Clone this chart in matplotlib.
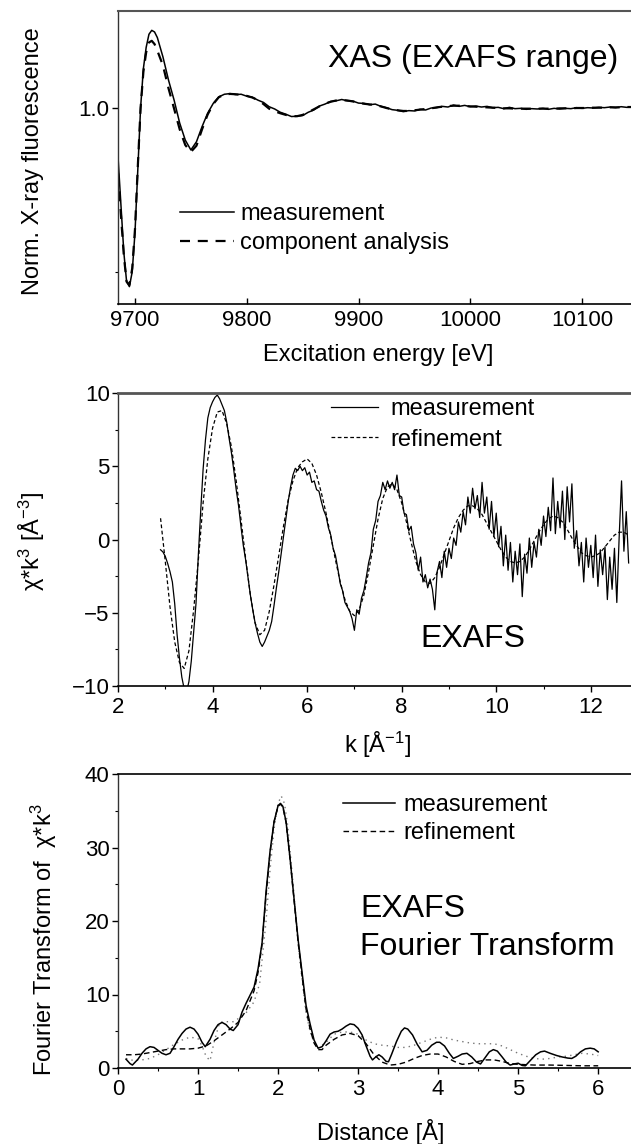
import numpy as np
import matplotlib
matplotlib.use("Agg")
import matplotlib.pyplot as plt
from matplotlib.ticker import FixedLocator, MultipleLocator

plt.rcParams['font.family'] = ['Liberation Sans', 'DejaVu Sans']
plt.rcParams['mathtext.fontset'] = 'custom'
plt.rcParams['mathtext.rm'] = 'Liberation Sans'
plt.rcParams['mathtext.it'] = 'Liberation Sans:italic'

# ---------------- Panel 1: XAS (EXAFS range) ----------------
energy_fine = [9685, 9687.5, 9690, 9692.5, 9695, 9697.5, 9700, 9702.5, 9705,
               9707.5, 9710, 9712.5, 9715, 9717.5, 9720]
energy_coarse = list(range(9725, 10146, 5))
energy = energy_fine + energy_coarse

xas_meas = [0.84, 0.70, 0.56, 0.47, 0.455, 0.50, 0.62, 0.81, 1.00, 1.12, 1.185, 1.225, 1.237, 1.232, 1.215,
            1.156, 1.085, 1.024, 0.954, 0.902, 0.872, 0.897, 0.943, 0.984, 1.014,
            1.034, 1.042, 1.044, 1.041, 1.042, 1.036, 1.033, 1.024, 1.017, 1.004,
            0.997, 0.987, 0.981, 0.974, 0.975, 0.977, 0.987, 0.994, 1.006, 1.012,
            1.020, 1.022, 1.026, 1.022, 1.021, 1.015, 1.014, 1.010, 1.012, 1.005,
            1.001, 0.995, 0.993, 0.989, 0.992, 0.991, 0.996, 0.994, 1.000, 1.001,
            1.005, 1.003, 1.009, 1.005, 1.008, 1.004, 1.006, 1.003, 1.005, 1.001,
            1.002, 0.998, 1.002, 0.998, 0.999, 0.996, 0.998, 0.997, 0.999, 0.996,
            0.999, 0.997, 0.999, 0.998, 1.001, 0.999, 1.001, 1.000, 1.002, 1.001,
            1.003, 1.001, 1.004, 1.002, 1.004]

xas_comp = [0.80, 0.67, 0.55, 0.47, 0.46, 0.51, 0.63, 0.82, 1.00, 1.11, 1.17, 1.20, 1.205, 1.195, 1.175,
            1.130, 1.060, 0.998, 0.935, 0.887, 0.866, 0.885, 0.935, 0.980, 1.012,
            1.033, 1.041, 1.043, 1.042, 1.040, 1.037, 1.032, 1.024, 1.012, 0.998,
            0.990, 0.984, 0.979, 0.975, 0.975, 0.979, 0.987, 0.996, 1.005, 1.013,
            1.019, 1.023, 1.024, 1.023, 1.020, 1.016, 1.013, 1.011, 1.009, 1.005,
            1.000, 0.996, 0.993, 0.991, 0.991, 0.993, 0.995, 0.997, 0.999, 1.002,
            1.004, 1.006, 1.007, 1.007, 1.006, 1.005, 1.004, 1.003, 1.002, 1.001,
            1.000, 0.999, 0.999, 0.998, 0.998, 0.998, 0.998, 0.998, 0.998, 0.998,
            0.998, 0.999, 0.999, 0.999, 1.000, 1.000, 1.000, 1.001, 1.001, 1.001,
            1.002, 1.002, 1.002, 1.003, 1.003]

# ---------------- Panel 2: EXAFS chi*k^3 ----------------
k_start, k_step = 2.90, 0.05
chi_meas = [-0.70, -0.85, -1.15, -1.63, -2.2, -2.9, -4.4, -6.5, -8.1, -9.4,
            -10.2, -10.4, -9.7, -8.3, -6.3, -4.36, -1.0, 2.0, 4.8, 6.8,
            8.3, 9.0, 9.4, 9.7, 9.86, 9.6, 9.2, 8.8, 8.0, 6.9,
            5.9, 4.7, 3.4, 2.3, 0.9, -0.4, -1.4, -2.6, -3.8, -4.8,
            -5.7, -6.4, -7.0, -7.3, -7.0, -6.6, -6.2, -5.6, -4.5, -3.3,
            -2.2, -1.0, 0.2, 1.4, 2.6, 3.6, 4.4, 4.86, 4.7, 5.0,
            4.7, 4.9, 4.4, 4.6, 3.9, 4.0, 3.4, 3.3, 2.6, 2.0,
            1.6, 0.8, 0.3, -0.6, -1.1, -2.0, -3.0, -3.5, -4.3, -4.6,
            -4.9, -5.4, -6.2, -4.8, -5.1, -4.0, -3.5, -2.6, -1.6, -0.9,
            0.7, 1.3, 2.6, 3.0, 3.9, 3.4, 4.0, 3.5, 3.9, 3.4,
            4.4, 3.0, 2.9, 1.8, 1.7, 0.6, 0.9, -0.3, -0.9, -2.1,
            -1.2, -2.9, -2.4, -3.3, -2.7, -3.4, -4.8, -2.2, -1.5, -2.6,
            -0.8, -1.9, -0.6, -1.3, 0.1, -0.4, 1.2, 0.5, 1.9, 1.0,
            2.9, 1.8, 3.5, 2.1, 3.0, 1.5, 3.9, 1.8, 2.9, 0.7,
            2.6, 0.2, 1.8, -0.5, 0.9, -1.8, 0.3, -2.1, -0.2, -2.9,
            -0.8, -2.4, -0.3, -3.9, -1.0, -2.3, 0.1, -1.9, -0.2, -1.2,
            0.7, -0.4, 1.6, 0.2, 2.2, 0.6, 4.2, 0.4, 2.6, 0.8,
            3.3, 0.0, 3.6, 1.2, 3.8, -0.6, 0.6, -1.8, -0.2, -2.9,
            0.1, -1.9, -0.4, -2.6, 0.3, -3.2, -0.7, -2.4, -0.5, -4.1,
            -1.2, -3.4, -0.6, -4.3, 0.2, 4.0, -0.8, 1.9, -1.6]

kr_start, kr_step = 2.90, 0.10
chi_refi = [1.45, -1.5, -4.6, -7.0, -8.4, -8.8, -7.6, -4.8, -1.4, 2.5,
            5.5, 7.6, 8.7, 8.8, 7.9, 6.3, 4.0, 1.4, -1.3, -3.8,
            -5.7, -6.5, -6.2, -4.9, -3.1, -1.1, 0.9, 2.7, 4.0, 4.9,
            5.3, 5.5, 5.2, 4.4, 3.2, 1.8, 0.2, -1.4, -2.9, -4.1,
            -4.9, -5.2, -4.8, -3.8, -2.2, -0.4, 1.4, 2.8, 3.6, 3.8,
            3.4, 2.5, 1.2, -0.2, -1.5, -2.4, -2.9, -3.0, -2.6, -1.9,
            -1.0, -0.1, 0.8, 1.5, 2.0, 2.3, 2.3, 2.1, 1.7, 1.1,
            0.5, -0.1, -0.7, -1.2, -1.5, -1.6, -1.5, -1.2, -0.7, -0.1,
            0.5, 1.0, 1.4, 1.6, 1.5, 1.2, 0.7, 0.1, -0.4, -0.9,
            -1.1, -1.2, -1.1, -0.9, -0.5, -0.1, 0.3, 0.5, 0.5, 0.3]

# ---------------- Panel 3: Fourier transform ----------------
r_meas = [0.10, 0.15, 0.18, 0.25, 0.30, 0.35, 0.40, 0.45, 0.50, 0.55, 0.60, 0.65, 0.70, 0.75,
          0.80, 0.85, 0.90, 0.95, 1.00, 1.05, 1.09, 1.15, 1.20, 1.25, 1.30, 1.35, 1.40, 1.44,
          1.50, 1.55, 1.60, 1.65, 1.70, 1.75, 1.80, 1.85, 1.90, 1.95, 2.00, 2.03, 2.06, 2.10,
          2.15, 2.20, 2.25, 2.30, 2.35, 2.40, 2.45, 2.50, 2.55, 2.60, 2.65, 2.70, 2.75, 2.80,
          2.85, 2.90, 2.95, 3.00, 3.05, 3.10, 3.15, 3.18, 3.22, 3.26, 3.30, 3.35, 3.38, 3.42,
          3.48, 3.54, 3.58, 3.62, 3.68, 3.74, 3.80, 3.86, 3.92, 3.98, 4.02, 4.08, 4.14, 4.19,
          4.25, 4.30, 4.36, 4.42, 4.48, 4.53, 4.58, 4.64, 4.69, 4.74, 4.80, 4.85, 4.90, 4.95,
          5.00, 5.05, 5.09, 5.15, 5.22, 5.28, 5.33, 5.40, 5.48, 5.55, 5.62, 5.67, 5.72, 5.78,
          5.84, 5.90, 5.95, 6.00]
ft_meas = [1.2, 0.6, 0.4, 1.2, 2.0, 2.6, 2.9, 2.8, 2.4, 2.0, 1.8, 2.0, 2.9, 3.9,
           4.7, 5.3, 5.55, 5.3, 4.6, 3.5, 2.9, 3.9, 5.1, 5.9, 6.2, 5.9, 5.3, 5.1,
           5.9, 7.6, 8.8, 9.9, 11.0, 13.5, 17.0, 24.0, 29.5, 33.5, 35.7, 36.0, 35.6, 33.5,
           28.5, 23.0, 17.5, 13.0, 8.5, 6.0, 3.8, 2.7, 2.9, 3.7, 4.6, 4.9, 5.0, 5.3,
           5.7, 6.0, 5.9, 5.4, 4.5, 3.0, 1.6, 1.1, 1.5, 1.8, 1.5, 0.9, 0.85, 1.9,
           3.6, 5.0, 5.45, 5.3, 4.5, 3.2, 2.2, 2.4, 3.1, 3.5, 3.5, 3.0, 2.0, 1.3,
           1.6, 1.9, 2.0, 1.5, 0.8, 0.55, 1.3, 2.2, 2.5, 2.3, 1.5, 0.8, 0.4, 0.55,
           0.65, 0.35, 0.3, 1.0, 1.8, 2.2, 2.3, 2.0, 1.7, 1.5, 1.35, 1.3, 1.6, 2.2,
           2.6, 2.7, 2.6, 2.2]

r_refi = [0.10, 0.20, 0.30, 0.40, 0.50, 0.60, 0.70, 0.80, 0.90, 1.00, 1.10, 1.20, 1.30, 1.40,
          1.50, 1.60, 1.70, 1.75, 1.80, 1.85, 1.90, 1.95, 2.00, 2.03, 2.06, 2.10, 2.15, 2.20,
          2.25, 2.30, 2.35, 2.40, 2.45, 2.50, 2.55, 2.60, 2.70, 2.80, 2.90, 3.00, 3.10, 3.20,
          3.30, 3.40, 3.50, 3.60, 3.70, 3.80, 3.90, 4.00, 4.10, 4.20, 4.30, 4.40, 4.50, 4.60,
          4.70, 4.80, 4.90, 5.00, 5.20, 5.40, 5.60, 5.80, 6.00]
ft_refi = [1.8, 1.8, 1.9, 2.1, 2.3, 2.5, 2.6, 2.6, 2.6, 2.7, 3.0, 3.7, 4.5, 5.3,
           6.2, 7.8, 10.5, 13.0, 16.8, 23.5, 29.3, 33.5, 35.6, 35.9, 35.5, 33.4, 28.4, 22.8,
           17.2, 12.5, 8.0, 5.3, 3.4, 2.5, 2.5, 3.1, 3.9, 4.5, 4.7, 4.4, 3.3, 1.8,
           0.8, 0.4, 0.5, 0.8, 1.3, 1.7, 1.9, 1.9, 1.5, 0.9, 0.5, 0.6, 0.9, 1.1,
           1.1, 0.9, 0.6, 0.5, 0.4, 0.4, 0.35, 0.3, 0.3]

r_dot = [0.10, 0.20, 0.30, 0.40, 0.50, 0.60, 0.70, 0.80, 0.90, 1.00, 1.05, 1.10, 1.15, 1.20,
         1.27, 1.35, 1.44, 1.50, 1.60, 1.70, 1.77, 1.85, 1.90, 1.95, 2.00, 2.04, 2.08, 2.12,
         2.18, 2.25, 2.30, 2.35, 2.40, 2.45, 2.50, 2.60, 2.70, 2.80, 2.90, 3.00, 3.10, 3.20,
         3.30, 3.40, 3.50, 3.60, 3.70, 3.80, 3.90, 4.00, 4.10, 4.20, 4.30, 4.40, 4.50, 4.60,
         4.70, 4.80, 4.90, 5.00, 5.10, 5.20, 5.30, 5.40, 5.50, 5.60, 5.70, 5.80, 5.90, 6.00]
ft_dot = [1.3, 1.0, 1.1, 1.3, 1.8, 2.5, 3.2, 3.8, 4.2, 4.0, 3.0, 1.6, 1.0, 3.5,
          6.2, 6.3, 6.3, 6.7, 7.5, 9.0, 11.5, 20.0, 27.0, 32.5, 36.0, 37.0, 36.0, 33.0,
          26.0, 17.0, 12.0, 7.5, 5.0, 3.4, 2.7, 3.5, 4.6, 4.9, 4.9, 4.6, 3.8, 3.3,
          3.1, 3.0, 2.8, 2.8, 3.1, 3.5, 3.9, 4.2, 4.1, 3.8, 3.6, 3.4, 3.3, 3.3,
          3.3, 3.0, 2.5, 2.0, 1.6, 1.3, 1.2, 1.3, 1.5, 1.6, 1.8, 2.0, 1.9, 1.7]

W, H = 631, 1144
fig = plt.figure(figsize=(W / 100, H / 100), dpi=100)


def px_axes(left, top, right, bottom):
    return fig.add_axes([left / W, 1 - bottom / H, (right - left) / W, (bottom - top) / H])


def style(ax, top_color, top_lw, xdir):
    ax.spines['right'].set_visible(False)
    ax.spines['top'].set_color(top_color)
    ax.spines['top'].set_linewidth(top_lw)
    ax.spines['left'].set_color('#333333')
    ax.spines['left'].set_linewidth(1.0)
    ax.spines['bottom'].set_color('black')
    ax.spines['bottom'].set_linewidth(1.2)
    ax.tick_params(axis='y', which='major', direction='out', length=4, width=1, labelsize=16, pad=2)
    ax.tick_params(axis='y', which='minor', direction='out', length=2, width=0.8)
    ax.tick_params(axis='x', which='major', direction=xdir, length=4, width=1, labelsize=16, pad=4)
    ax.tick_params(axis='x', which='minor', direction=xdir, length=2.5, width=0.8)
    ax.tick_params(top=False, right=False, which='both')


FS_LAB = 17
FS_BIG = 23

# ---- Panel 1
ax1 = px_axes(118, 11, 631, 304)
ax1.plot(energy, xas_meas, color='black', lw=1.1, label='measurement')
ax1.plot(energy, xas_comp, color='black', lw=1.6, linestyle=(0, (4.5, 3.5)), label='component analysis')
ax1.set_xlim(9684.8, 10143.8)
ax1.set_ylim(0.402, 1.296)
ax1.yaxis.set_major_locator(FixedLocator([1.0]))
ax1.yaxis.set_minor_locator(FixedLocator([0.5]))
ax1.set_yticklabels(['1.0'])
ax1.xaxis.set_major_locator(MultipleLocator(100))
style(ax1, '#555555', 1.5, 'in')
ax1.legend(loc='upper left', bbox_to_anchor=((180 - 118) / 513, (304 - 203) / 293), frameon=False,
           fontsize=FS_LAB, handlelength=2.3, handletextpad=0.25, labelspacing=0.3,
           borderpad=0, borderaxespad=0)
fig.text(328 / W, 1 - 67 / H, 'XAS (EXAFS range)', fontsize=FS_BIG, ha='left', va='baseline')
fig.text(33 / W, 1 - 161 / H, 'Norm. X-ray fluorescence', fontsize=FS_LAB, rotation=90,
         ha='center', va='center')
fig.text(378 / W, 1 - 355 / H, 'Excitation energy [eV]', fontsize=FS_LAB, ha='center', va='center')

# ---- Panel 2
ax2 = px_axes(118, 393, 631, 686)
k_meas = np.round(k_start + k_step * np.arange(len(chi_meas)), 3)
k_refi = np.round(kr_start + kr_step * np.arange(len(chi_refi)), 3)
ax2.plot(k_meas, chi_meas, color='black', lw=0.9, label='measurement')
ax2.plot(k_refi, chi_refi, color='black', lw=0.9, linestyle=(0, (3, 2)), label='refinement')
ax2.set_xlim(2, 12.85)
ax2.set_ylim(-10, 10)
ax2.xaxis.set_major_locator(MultipleLocator(2))
ax2.xaxis.set_minor_locator(MultipleLocator(1))
ax2.yaxis.set_major_locator(MultipleLocator(5))
ax2.yaxis.set_minor_locator(MultipleLocator(2.5))
style(ax2, '#555555', 2.0, 'out')
ax2.legend(loc='upper left', bbox_to_anchor=((331 - 118) / 513, (686 - 398) / 293), frameon=False,
           fontsize=FS_LAB, handlelength=2.0, handletextpad=0.5, labelspacing=0.37,
           borderpad=0, borderaxespad=0)
fig.text(420 / W, 1 - 647 / H, 'EXAFS', fontsize=FS_BIG, ha='left', va='baseline')
fig.text(32 / W, 1 - 542 / H, 'χ*k$^{\\mathregular{3}}$ [Å$^{\\mathregular{-3}}$]', fontsize=FS_LAB,
         rotation=90, ha='center', va='center')
fig.text(378 / W, 1 - 745 / H, 'k [Å$^{\\mathregular{-1}}$]', fontsize=FS_LAB, ha='center', va='center')

# ---- Panel 3
ax3 = px_axes(118, 774, 631, 1068)
ax3.plot(r_dot, ft_dot, color='#777777', lw=1.0, linestyle=(0, (1, 3)))
ax3.plot(r_refi, ft_refi, color='black', lw=1.0, linestyle=(0, (4, 2.5)), label='refinement')
ax3.plot(r_meas, ft_meas, color='black', lw=1.1, label='measurement')
ax3.set_xlim(0, 6.41)
ax3.set_ylim(0, 40)
ax3.xaxis.set_major_locator(MultipleLocator(1))
ax3.xaxis.set_minor_locator(MultipleLocator(0.5))
ax3.yaxis.set_major_locator(MultipleLocator(10))
ax3.yaxis.set_minor_locator(MultipleLocator(5))
style(ax3, 'black', 1.2, 'out')
h, l = ax3.get_legend_handles_labels()
leg_h = [h[l.index('measurement')], h[l.index('refinement')]]
ax3.legend(leg_h, ['measurement', 'refinement'], loc='upper left',
           bbox_to_anchor=((343 - 118) / 513, (1068 - 794) / 294), frameon=False,
           fontsize=FS_LAB, handlelength=2.2, handletextpad=0.35, labelspacing=0.27,
           borderpad=0, borderaxespad=0)
fig.text(360 / W, 1 - 917 / H, 'EXAFS', fontsize=FS_BIG, ha='left', va='baseline')
fig.text(360 / W, 1 - 955 / H, 'Fourier Transform', fontsize=FS_BIG, ha='left', va='baseline')
fig.text(44 / W, 1 - 940 / H, 'Fourier Transform of  χ*k$^{\\mathregular{3}}$', fontsize=FS_LAB,
         rotation=90, ha='center', va='center')
fig.text(381 / W, 1 - 1132 / H, 'Distance [Å]', fontsize=FS_LAB, ha='center', va='center')

fig.savefig('out.png', dpi=100)
